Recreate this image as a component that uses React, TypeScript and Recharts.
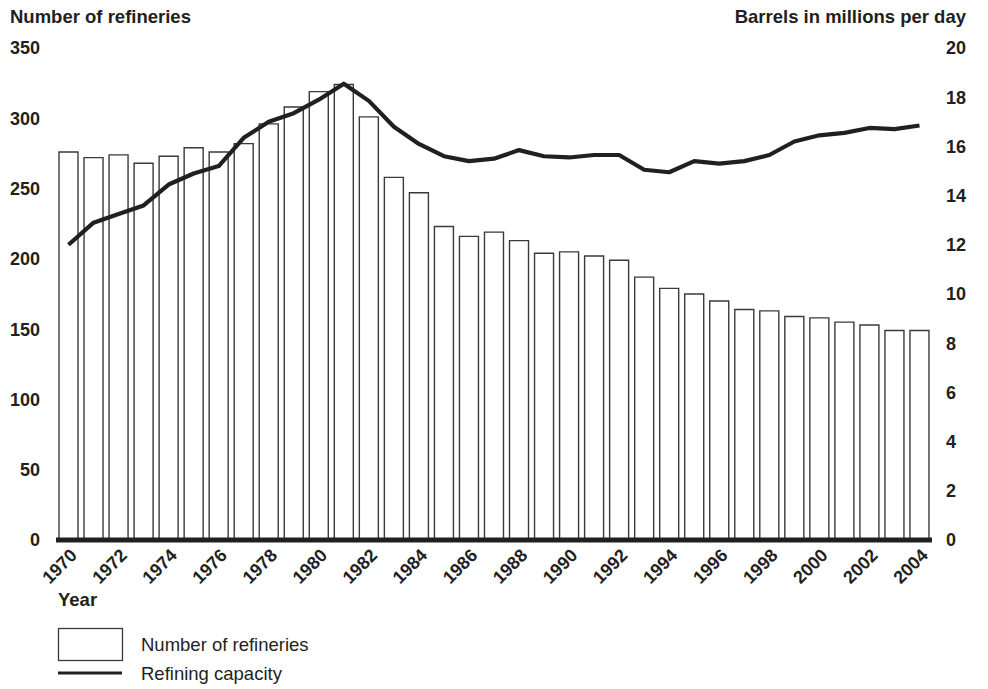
import { ComposedChart, Bar, Line, XAxis, YAxis } from 'recharts'

const years = [
  '1970', '1971', '1972', '1973', '1974', '1975', '1976', '1977', '1978', '1979',
  '1980', '1981', '1982', '1983', '1984', '1985', '1986', '1987', '1988', '1989',
  '1990', '1991', '1992', '1993', '1994', '1995', '1996', '1997', '1998', '1999',
  '2000', '2001', '2002', '2003', '2004',
]

const refineries = [
  276, 272, 274, 268, 273, 279, 276, 282, 296, 308,
  319, 324, 301, 258, 247, 223, 216, 219, 213, 204,
  205, 202, 199, 187, 179, 175, 170, 164, 163, 159,
  158, 155, 153, 149, 149,
]

// barrels in millions per day
const capacity = [
  12.0, 12.9, 13.25, 13.6, 14.45, 14.9, 15.2, 16.35, 17.0, 17.35,
  17.9, 18.55, 17.85, 16.8, 16.1, 15.6, 15.4, 15.5, 15.85, 15.6,
  15.55, 15.65, 15.65, 15.05, 14.95, 15.4, 15.3, 15.4, 15.65, 16.2,
  16.45, 16.55, 16.75, 16.7, 16.85,
]

const leftTicks = [0, 50, 100, 150, 200, 250, 300, 350]
const rightTicks = [0, 2, 4, 6, 8, 10, 12, 14, 16, 18, 20]

const data = years.map((year, i) => ({
  year,
  refineries: refineries[i],
  capacity: capacity[i],
}))

const FONT = '"Liberation Sans", Arial, Helvetica, sans-serif'
const INK = '#231f20'

function YearTick({ x, y, payload }: any) {
  const ax = x + 5
  const ay = y + 12
  return (
    <text
      x={ax}
      y={ay}
      dy="0.355em"
      transform={`rotate(-45 ${ax} ${ay})`}
      textAnchor="end"
      fontFamily={FONT}
      fontWeight={700}
      fontSize={18}
      fill={INK}
    >
      {payload.value}
    </text>
  )
}

const tickStyle = { fontFamily: FONT, fontWeight: 700, fontSize: 18, fill: INK }

export default function App() {
  return (
    <div style={{ position: 'absolute', left: 0, top: 0, width: 988, height: 689, background: '#fff' }}>
      <ComposedChart
        width={988}
        height={689}
        data={data}
        margin={{ top: 48, right: 0, bottom: 0, left: 0 }}
      >
        <XAxis
          dataKey="year"
          height={149}
          interval={1}
          tickLine={false}
          tickSize={0}
          tickMargin={0}
          axisLine={{ stroke: INK, strokeWidth: 5 }}
          tick={<YearTick />}
        />
        <YAxis
          yAxisId="left"
          orientation="left"
          width={56}
          domain={[0, 350]}
          ticks={leftTicks}
          axisLine={false}
          tickLine={false}
          tickSize={0}
          tickMargin={16}
          tick={tickStyle}
        />
        <YAxis
          yAxisId="right"
          orientation="right"
          width={56}
          domain={[0, 20]}
          ticks={rightTicks}
          axisLine={false}
          tickLine={false}
          tickSize={0}
          tickMargin={14}
          tick={{ ...tickStyle, textAnchor: 'start' }}
        />
        <Bar
          yAxisId="left"
          dataKey="refineries"
          barSize={19}
          fill="#ffffff"
          stroke="#3a3a3a"
          strokeWidth={1.4}
          isAnimationActive={false}
        />
        <Line
          yAxisId="right"
          dataKey="capacity"
          type="linear"
          stroke={INK}
          strokeWidth={4.2}
          strokeLinejoin="round"
          dot={false}
          activeDot={false}
          isAnimationActive={false}
        />
      </ComposedChart>
      <svg
        width={988}
        height={689}
        style={{ position: 'absolute', left: 0, top: 0, pointerEvents: 'none' }}
      >
        <g fontFamily={FONT} fill={INK}>
          <text x={10} y={23} fontSize={18.5} fontWeight={700}>Number of refineries</text>
          <text x={966} y={23} fontSize={18.5} fontWeight={700} textAnchor="end">
            Barrels in millions per day
          </text>
          <text x={58} y={606} fontSize={18.5} fontWeight={700}>Year</text>
          <rect x={58.5} y={628.5} width={64} height={32} fill="#fff" stroke="#3a3a3a" strokeWidth={1.3} />
          <line x1={58} x2={122} y1={673} y2={673} stroke={INK} strokeWidth={3} />
          <text x={141} y={651} fontSize={18.5}>Number of refineries</text>
          <text x={141} y={680} fontSize={18.5}>Refining capacity</text>
        </g>
      </svg>
    </div>
  )
}
